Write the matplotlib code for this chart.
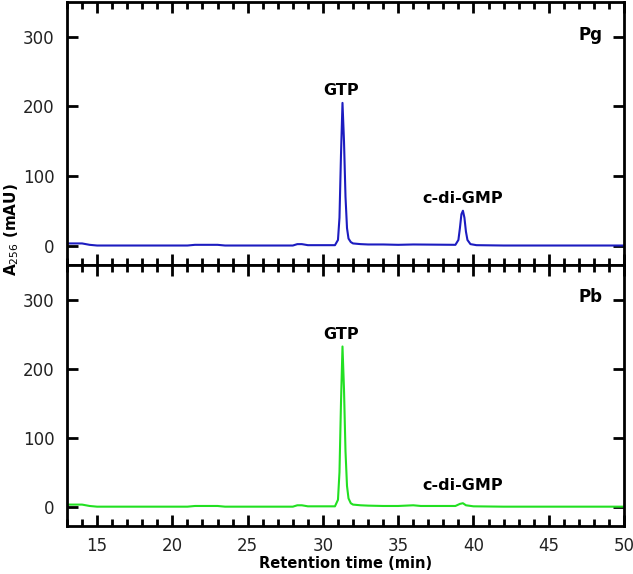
import matplotlib
matplotlib.use("Agg")
import matplotlib.pyplot as plt
from matplotlib.ticker import MultipleLocator

# retention time (min) and absorbance (mAU)
t_pg = [13.0, 13.5, 14.0, 14.5, 15.0, 18.0, 21.0, 21.5, 23.0, 23.5, 28.0, 28.3, 28.6, 29.0,
        30.8, 31.0, 31.1, 31.2, 31.3, 31.4, 31.5, 31.6, 31.7, 31.85, 32.0, 32.5, 33.0,
        34.0, 35.0, 36.0, 38.8, 39.0, 39.1, 39.2, 39.3, 39.4, 39.5, 39.6, 39.8, 40.2, 42.0, 50.0]
a_pg = [3, 3, 3, 1, 0, 0, 0, 1, 1, 0, 0, 2, 2, 0.5,
        0.5, 8, 40, 130, 205, 150, 70, 25, 10, 5, 3, 2, 1.5,
        1.5, 1, 1.5, 1, 8, 25, 45, 50, 40, 20, 8, 2, 0.5, 0, 0]

t_pb = [13.0, 13.5, 14.0, 14.5, 15.0, 18.0, 21.0, 21.5, 23.0, 23.5, 28.0, 28.3, 28.6, 29.0,
        30.8, 31.0, 31.1, 31.2, 31.3, 31.4, 31.5, 31.6, 31.7, 31.85, 32.0, 32.5, 33.0,
        34.0, 35.0, 36.0, 36.5, 38.8, 39.1, 39.3, 39.5, 40.0, 42.0, 50.0]
a_pb = [3, 3, 3, 1, 0, 0, 0, 1, 1, 0, 0, 2, 2, 0.5,
        0.5, 10, 50, 150, 232, 170, 80, 30, 12, 5, 3, 2, 1.5,
        1, 1, 2, 1, 1, 4, 5, 2, 0.5, 0, 0]

panels = [
    ("Pg", t_pg, a_pg, "#1c1cc0", (31.2, 212), (39.3, 57)),
    ("Pb", t_pb, a_pb, "#22e022", (31.2, 238), (39.3, 20)),
]

fig = plt.figure(figsize=(6.33, 5.74), dpi=100)
left, width = 67 / 633, 557 / 633
ax_top = fig.add_axes([left, 1 - 265 / 574, width, 263 / 574])
ax_bot = fig.add_axes([left, 1 - 526 / 574, width, 261 / 574])

for ax, (name, t, a, col, gtp_xy, cdg_xy) in zip([ax_top, ax_bot], panels):
    ax.plot(t, a, color=col, lw=1.5)
    ax.set_xlim(13, 50)
    ax.set_ylim(-28, 350)
    ax.xaxis.set_major_locator(MultipleLocator(5))
    ax.xaxis.set_minor_locator(MultipleLocator(1))
    ax.yaxis.set_major_locator(MultipleLocator(100))
    ax.tick_params(which="both", direction="in", top=True, right=True, width=2, colors="black",
                   labelcolor="#222222", labelsize=12)
    ax.tick_params(which="major", length=8)
    ax.tick_params(which="minor", length=5)
    ax.tick_params(axis="x", pad=8)
    ax.tick_params(axis="y", pad=9)
    for s in ax.spines.values():
        s.set_linewidth(2)
    ax.text(gtp_xy[0], gtp_xy[1], "GTP", ha="center", va="bottom", fontsize=11.5, fontweight="bold")
    ax.text(cdg_xy[0], cdg_xy[1], "c-di-GMP", ha="center", va="bottom", fontsize=11.5, fontweight="bold")
    ax.text(48.6, 303, name, ha="right", va="center", fontsize=12, fontweight="bold")

ax_top.tick_params(labelbottom=False)
ax_bot.set_xlabel("Retention time (min)", fontsize=10.5, fontweight="bold", labelpad=1)
fig.text(0.018, 1 - 230 / 574, r"A$_{256}$ (mAU)", rotation=90, ha="center", va="center",
         fontsize=11, fontweight="bold")

fig.savefig("out.png", dpi=100)
